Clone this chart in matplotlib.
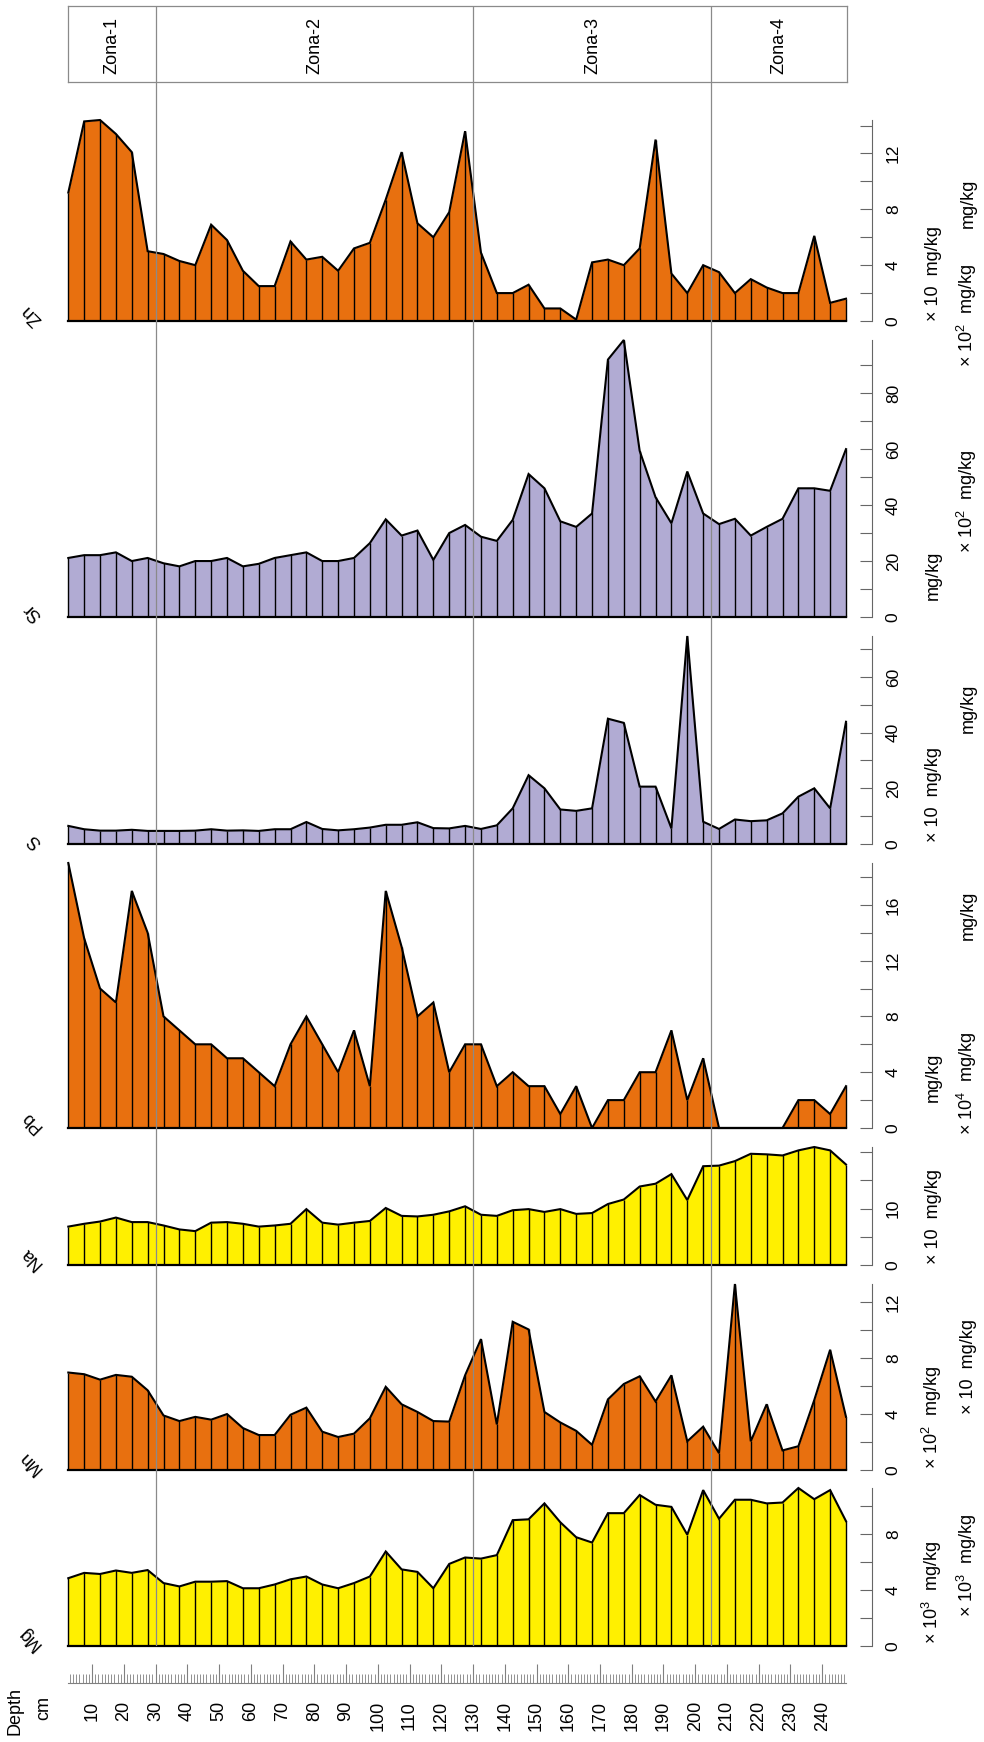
import numpy as np
import matplotlib
matplotlib.use("Agg")
import matplotlib.pyplot as plt

plt.rcParams['font.family'] = ['Liberation Sans', 'DejaVu Sans']

# sample depths, cm
depth = [2.5, 7.5, 12.5, 17.5, 22.5, 27.5, 32.5, 37.5, 42.5, 47.5,
         52.5, 57.5, 62.5, 67.5, 72.5, 77.5, 82.5, 87.5, 92.5, 97.5,
         102.5, 107.5, 112.5, 117.5, 122.5, 127.5, 132.5, 137.5, 142.5, 147.5,
         152.5, 157.5, 162.5, 167.5, 172.5, 177.5, 182.5, 187.5, 192.5, 197.5,
         202.5, 207.5, 212.5, 217.5, 222.5, 227.5, 232.5, 237.5, 242.5, 247.5]

zn = [9.2, 14.3, 14.4, 13.4, 12.1, 5.0, 4.8, 4.3, 4.0, 6.9,
      5.8, 3.6, 2.5, 2.5, 5.7, 4.4, 4.6, 3.6, 5.2, 5.6,
      8.7, 12.1, 7.0, 6.0, 7.8, 13.6, 4.9, 2.0, 2.0, 2.6,
      0.9, 0.9, 0.1, 4.2, 4.4, 4.0, 5.2, 13.0, 3.4, 2.0,
      4.0, 3.5, 2.0, 3.0, 2.4, 2.0, 2.0, 6.1, 1.3, 1.6]
sr = [21.1, 22.1, 22.1, 23.1, 20.0, 21.1, 19.2, 18.1, 20.0, 20.0,
      21.1, 18.1, 19.0, 21.1, 22.1, 23.1, 20.0, 20.0, 21.1, 26.4,
      34.9, 29.1, 30.9, 20.4, 30.0, 32.9, 28.7, 27.2, 34.7, 51.1,
      46.0, 34.2, 32.2, 37.0, 92.0, 99.0, 59.4, 42.8, 33.5, 52.0,
      37.0, 33.2, 35.1, 29.1, 32.2, 35.1, 46.0, 46.0, 45.1, 60.0]
s = [6.5, 5.3, 4.8, 4.8, 5.1, 4.7, 4.7, 4.7, 4.8, 5.3,
     4.8, 4.9, 4.7, 5.3, 5.3, 7.9, 5.4, 4.9, 5.3, 5.9,
     6.9, 6.9, 7.8, 5.7, 5.6, 6.5, 5.4, 6.7, 12.8, 24.7,
     20.0, 12.4, 11.9, 12.8, 45.0, 43.5, 20.6, 20.6, 5.6, 74.7,
     8.0, 5.4, 8.8, 8.2, 8.5, 11.0, 17.0, 20.0, 12.8, 43.9]
pb = [19, 13.6, 10, 9, 17, 14, 8, 7, 6, 6,
      5, 5, 4, 3, 6, 8, 6, 4, 7, 3,
      17, 13, 8, 9, 4, 6, 6, 3, 4, 3,
      3, 1, 3, 0, 2, 2, 4, 4, 7, 2,
      5, 0, 0, 0, 0, 0, 2, 2, 1, 3]
na = [6.8, 7.3, 7.7, 8.4, 7.6, 7.6, 7.0, 6.3, 6.0, 7.5,
      7.6, 7.3, 6.8, 7.0, 7.3, 9.9, 7.5, 7.15, 7.5, 7.8,
      10.1, 8.7, 8.6, 8.9, 9.5, 10.4, 8.9, 8.7, 9.7, 9.9,
      9.4, 9.9, 9.05, 9.2, 10.8, 11.6, 13.9, 14.4, 16.1, 11.5,
      17.5, 17.6, 18.4, 19.7, 19.6, 19.4, 20.3, 20.9, 20.3, 17.8]
mn = [6.97, 6.85, 6.46, 6.8, 6.67, 5.7, 3.9, 3.5, 3.8, 3.6,
      4.0, 3.0, 2.5, 2.5, 3.95, 4.46, 2.74, 2.36, 2.6, 3.7,
      5.95, 4.7, 4.15, 3.5, 3.46, 6.77, 9.36, 3.26, 10.6, 10.05,
      4.15, 3.4, 2.8, 1.8, 5.05, 6.15, 6.7, 4.9, 6.77, 2.05,
      3.1, 1.2, 13.3, 2.05, 4.7, 1.4, 1.7, 5.0, 8.6, 3.8]
mg = [4.85, 5.23, 5.15, 5.4, 5.23, 5.43, 4.5, 4.26, 4.6, 4.6,
      4.64, 4.13, 4.13, 4.4, 4.77, 4.97, 4.4, 4.13, 4.5, 4.97,
      6.76, 5.48, 5.3, 4.13, 5.87, 6.33, 6.25, 6.5, 9.0, 9.06,
      10.2, 8.85, 7.78, 7.4, 9.5, 9.5, 10.8, 10.1, 9.95, 7.96,
      11.15, 9.1, 10.46, 10.46, 10.2, 10.26, 11.3, 10.5, 11.15, 8.93]

elements = ['Zn', 'Sr', 'S', 'Pb', 'Na', 'Mn', 'Mg']
series = [zn, sr, s, pb, na, mn, mg]

# labelled ticks and unlabelled ticks on each value axis
labelled = [[0, 4, 8, 12], [0, 20, 40, 60, 80], [0, 20, 40, 60],
            [0, 4, 8, 12, 16], [0, 10], [0, 4, 8, 12], [0, 4, 8]]
unlabelled = [[2, 6, 10, 14], [10, 30, 50, 70, 90], [10, 30, 50, 70],
              [2, 6, 10, 14, 18], [5, 15, 20], [2, 6, 10], [2, 6, 10]]

zone_bounds = [2.5, 30, 130, 205, 247.5]
zone_names = ['Zona-1', 'Zona-2', 'Zona-3', 'Zona-4']

depth_labels = [10, 20, 30, 40, 50, 60, 70, 80, 90, 100, 110, 120,
                130, 140, 150, 160, 170, 180, 190, 200, 210, 220, 230, 240]

units_a = ['× 10  mg/kg', 'mg/kg', '× 10  mg/kg', 'mg/kg', '× 10  mg/kg',
           r'× 10$^{\mathregular{2}}$  mg/kg', r'× 10$^{\mathregular{3}}$  mg/kg']
units_b = ['mg/kg', r'× 10$^{\mathregular{2}}$  mg/kg', r'× 10$^{\mathregular{2}}$  mg/kg',
           'mg/kg', 'mg/kg', r'× 10$^{\mathregular{4}}$  mg/kg', '× 10  mg/kg',
           r'× 10$^{\mathregular{3}}$  mg/kg']

# styling / layout (pixels)
ORANGE = '#E8700F'
LAV = '#B1ABD3'
YEL = '#FFF000'
fills = [ORANGE, LAV, LAV, ORANGE, YEL, ORANGE, YEL]

W, H = 984, 1742
X0, X1 = 68.3, 846.0
panel_top = [120, 340, 636, 863, 1147, 1284, 1488]
panel_base = [321, 617, 844, 1128, 1265, 1470, 1646]
units_a_y = [321, 600, 842, 1102, 1264, 1469, 1644]
units_b_y = [228, 367, 553, 733, 940, 1135, 1414, 1617]


def rect(x0, x1, ytop, ybot):
    return [x0 / W, 1 - ybot / H, (x1 - x0) / W, (ybot - ytop) / H]


fig = plt.figure(figsize=(W / 100, H / 100), dpi=100)
xlim = (depth[0], depth[-1])

for i in range(len(elements)):
    vals = series[i]
    vmax = max(vals)
    ax = fig.add_axes(rect(X0, X1, panel_top[i], panel_base[i]))
    ax.set_xlim(xlim)
    ax.set_ylim(0, vmax)
    ax.fill_between(depth, 0, vals, color=fills[i], lw=0)
    ax.vlines(depth, 0, vals, color='black', lw=1.0, clip_on=False)
    ax.plot(depth, vals, color='black', lw=1.5, clip_on=False, solid_joinstyle='miter')
    ax.plot([depth[0], depth[-1]], [0, 0], color='black', lw=1.6, clip_on=False)
    for sp in ['left', 'top', 'bottom']:
        ax.spines[sp].set_visible(False)
    ax.spines['right'].set_position(('outward', 18.7))
    ax.spines['right'].set_bounds(0, vmax)
    ax.spines['right'].set_color('#666666')
    ax.spines['right'].set_linewidth(0.8)
    ax.set_xticks([])
    ax.set_yticks(labelled[i])
    ax.set_yticklabels([str(v) for v in labelled[i]])
    ax.set_yticks(unlabelled[i], minor=True)
    ax.yaxis.tick_right()
    ax.tick_params(axis='y', which='both', direction='in', length=8.6, width=0.8,
                   color='#666666', pad=10, labelsize=12.5)
    for lab in ax.get_yticklabels():
        lab.set_rotation(90)
        lab.set_va('center')
        lab.set_ha('left')
    ax.patch.set_visible(False)

    # element name
    fig.text(42 / W, 1 - (panel_base[i] - 2) / H, elements[i], rotation=135,
             rotation_mode='anchor', ha='left', va='baseline', fontsize=13)

# unit labels, two columns
for txt, y in zip(units_a, units_a_y):
    fig.text(938 / W, 1 - y / H, txt, rotation=90, rotation_mode='anchor',
             ha='left', va='baseline', fontsize=13)
for txt, y in zip(units_b, units_b_y):
    fig.text(973 / W, 1 - y / H, txt, rotation=90, rotation_mode='anchor',
             ha='left', va='baseline', fontsize=13)

# zone box
bax = fig.add_axes(rect(X0, 846.7, 6, 82))
bax.set_xlim(xlim)
bax.set_ylim(0, 1)
bax.set_xticks([])
bax.set_yticks([])
for sp in bax.spines.values():
    sp.set_color('#8a8a8a')
    sp.set_linewidth(0.9)
for k in range(len(zone_names)):
    mid = (zone_bounds[k] + zone_bounds[k + 1]) / 2
    bax.text(mid, 0.48, zone_names[k], rotation=90, ha='center', va='center', fontsize=13)

# zone lines across all panels
zax = fig.add_axes(rect(X0, X1, 6, 1646), zorder=5)
zax.set_xlim(xlim)
zax.set_ylim(0, 1)
zax.axis('off')
for b in zone_bounds[1:-1]:
    zax.axvline(b, color='#8a8a8a', lw=0.9)

# depth axis
dax = fig.add_axes(rect(X0, X1, 1663, 1683))
dax.set_xlim(xlim)
dax.set_ylim(0, 1)
for sp in ['left', 'top', 'right']:
    dax.spines[sp].set_visible(False)
dax.spines['bottom'].set_color('#808080')
dax.spines['bottom'].set_linewidth(0.8)
dax.set_yticks([])
dax.set_xticks(depth_labels)
dax.set_xticklabels([str(d) for d in depth_labels], rotation=90, fontsize=13)
dax.set_xticks(np.arange(3, 248, 1), minor=True)
dax.tick_params(axis='x', which='major', direction='in', length=13.7, width=0.8,
                color='#808080', pad=13)
dax.tick_params(axis='x', which='minor', direction='in', length=6.7, width=0.6,
                color='#808080')
dax.patch.set_visible(False)

fig.text(15 / W, 1 - 1711 / H, 'Depth', rotation=90, ha='center', va='center', fontsize=13)
fig.text(44 / W, 1 - 1708 / H, 'cm', rotation=90, ha='center', va='center', fontsize=13)

fig.savefig('out.png', dpi=100)
